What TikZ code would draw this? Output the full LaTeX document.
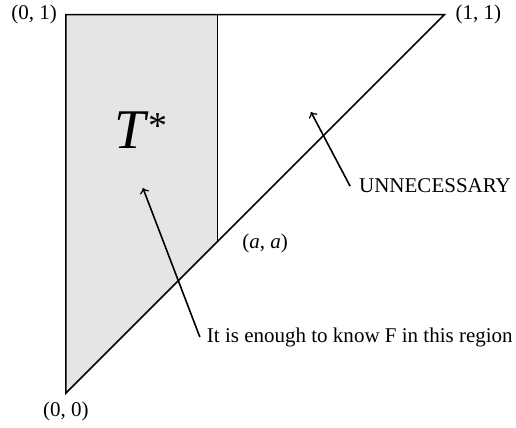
\documentclass[tikz,border=0pt]{standalone}
\usepackage{fontspec}
\setmainfont{Liberation Serif}
\usepackage{tikz}

\begin{document}
\begin{tikzpicture}[x=6.65cm, y=6.65cm, every node/.style={font=\fontsize{10.5}{12}\selectfont}]
  \useasboundingbox (-0.174, -0.090) rectangle (1.189, 1.0386);
  \coordinate (O) at (0, 0);
  \coordinate (P) at (0, 1);
  \coordinate (Q) at (1, 1);
  \coordinate (A) at (0.4, 0.4);
  \coordinate (B) at (0.4, 1);
  \fill[black!10] (O) -- (A) -- (B) -- (P) -- cycle;
  \draw[line width=0.4pt] (A) -- (B);
  \draw[line width=0.8pt] (O) -- (Q) -- (P) -- cycle;
  \node[left, xshift=-1pt] (lp) at (P) {(0, 1)};
  \node[right, xshift=2pt] (lq) at (Q) {(1, 1)};
  \node[below, yshift=-1pt] (lo) at (O) {(0, 0)};
  \node[right, xshift=9pt, yshift=-1pt] (la) at (A) {(\textit{a}, \textit{a})};
  \node (tstar) at (0.198, 0.695) {\fontsize{28}{30}\selectfont\textit{T}\raisebox{5pt}{\fontsize{19}{20}\selectfont *}};
  \node[anchor=west] (region) at (0.354, 0.148) {It is enough to know F in this region};
  \node[anchor=west] (unn) at (0.756, 0.547) {UNNECESSARY};
  \coordinate (tipr) at (0.2035, 0.5418);
  \coordinate (tipu) at (0.6475, 0.7426);
  \draw[->, line width=0.8pt] (region.west) -- (tipr);
  \draw[->, line width=0.8pt] ([xshift=-1pt]unn.west) -- (tipu);
\end{tikzpicture}
\end{document}
